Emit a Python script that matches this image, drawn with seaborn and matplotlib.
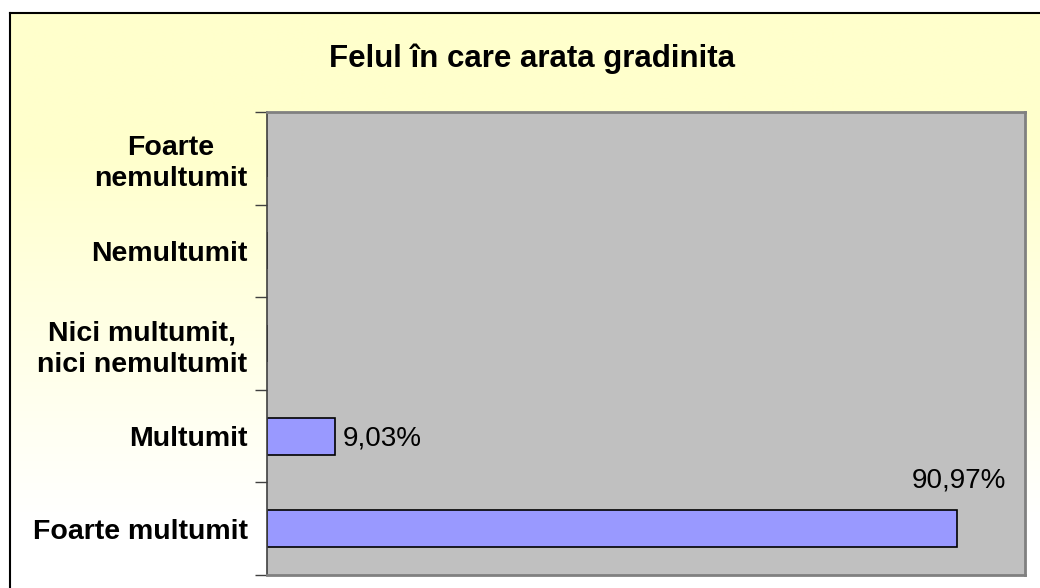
import matplotlib
matplotlib.use('Agg')
import matplotlib.pyplot as plt
import seaborn as sns
import numpy as np
import pandas as pd
from matplotlib.ticker import FixedLocator

# date
categorii = ['Foarte\nnemultumit', 'Nemultumit', 'Nici multumit,\nnici nemultumit',
             'Multumit', 'Foarte multumit']
procente = [0.0, 0.0, 0.0, 9.03, 90.97]
titlu = 'Felul în care arata gradinita'

df = pd.DataFrame({'Raspuns': categorii, 'Procent': procente})

sns.set_style('white')
plt.rcParams['font.family'] = ['Liberation Sans', 'DejaVu Sans']
plt.rcParams['text.color'] = 'black'
plt.rcParams['ytick.color'] = 'black'
plt.rcParams['ytick.labelcolor'] = 'black'

W, H = 1040, 588
fig = plt.figure(figsize=(W / 100, H / 100), dpi=100, facecolor='white')

# fundal cu gradient galben -> alb
bg = fig.add_axes([10 / W, 0, 1 - 10 / W, 1 - 13 / H], zorder=-1)
rows = np.linspace(13, H, 300)
t = np.clip((rows - 150) / (520 - 150), 0, 1)[:, None]
top = np.array([1.0, 1.0, 0.8])
grad = top + (np.array([1.0, 1.0, 1.0]) - top) * t
bg.imshow(np.repeat(grad[:, None, :], 2, axis=1), aspect='auto',
          extent=[0, 1, 0, 1], interpolation='bilinear')
bg.set_xticks([])
bg.set_yticks([])
for s in ['right', 'bottom']:
    bg.spines[s].set_visible(False)
for s in ['left', 'top']:
    bg.spines[s].set_color('black')
    bg.spines[s].set_linewidth(1.5)

ax = fig.add_axes([267 / W, (H - 575) / H, 758 / W, 463 / H])
sns.barplot(data=df, x='Procent', y='Raspuns', orient='h', color='#9999FF',
            saturation=1, edgecolor='black', linewidth=1.2, width=0.4, ax=ax)
ax.set_facecolor('#C0C0C0')
ax.set_xlim(0, 100)
ax.set_ylim(4.5, -0.5)
ax.set_xlabel('')
ax.set_ylabel('')
ax.set_xticks([])

ax.yaxis.set_minor_locator(FixedLocator(np.arange(-0.5, 5, 1)))
ax.tick_params(axis='y', which='major', left=True, length=0, pad=14)
ax.tick_params(axis='y', which='minor', left=True, length=9, width=1,
               color='#404040', direction='out')
for lbl in ax.get_yticklabels():
    lbl.set_fontsize(20.5)
    lbl.set_fontweight('bold')
    lbl.set_color('black')
    lbl.set_multialignment('center')
    lbl.set_linespacing(1.25)

for s in ['top', 'right', 'bottom']:
    ax.spines[s].set_visible(True)
    ax.spines[s].set_color('#808080')
    ax.spines[s].set_linewidth(2)
ax.spines['left'].set_color('#404040')
ax.spines['left'].set_linewidth(1.2)

# etichete de date
for i, v in enumerate(procente):
    if v <= 0:
        continue
    txt = f'{v:.2f}%'.replace('.', ',')
    if v > 50:
        ax.text(v + 6.6, i - 0.45, txt, ha='right', va='baseline', fontsize=20,
                color='black')
    else:
        ax.text(v + 0.9, i + 0.1, txt, ha='left', va='baseline', fontsize=20,
                color='black')

fig.text(532 / W, 1 - 67 / H, titlu, ha='center', va='baseline',
         fontsize=22.5, fontweight='bold', color='black')

fig.savefig('out.png', dpi=100, facecolor='white')
